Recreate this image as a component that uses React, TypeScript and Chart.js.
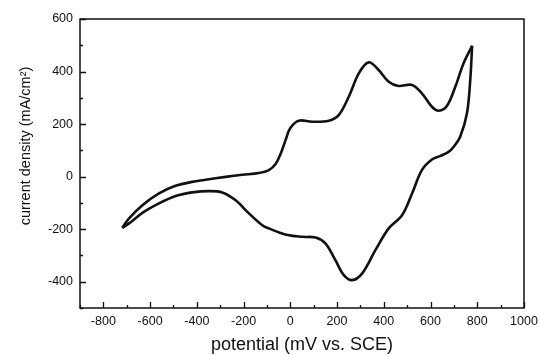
import React, { useEffect, useRef } from "react";
import { Chart, registerables } from "chart.js";

Chart.register(...registerables);

// Forward (anodic) scan: -720 mV -> 780 mV
const forwardPotential = [-719, -690, -633, -562, -491, -420, -348, -277, -206, -135, -92, -63, -40, -20, 0, 36, 93, 165, 207, 250, 293, 335, 378, 421, 463, 521, 563, 606, 635, 670, 706, 741, 778];
const forwardCurrent = [-195, -159, -109, -64, -35, -20, -10, -1, 7, 14, 25, 48, 90, 140, 185, 213, 209, 213, 234, 304, 393, 435, 406, 361, 345, 349, 317, 266, 251, 269, 342, 431, 498];

// Reverse (cathodic) scan: 780 mV -> -720 mV
const reversePotential = [778, 770, 756, 727, 700, 677, 640, 606, 563, 521, 478, 421, 364, 307, 264, 229, 193, 150, 108, 50, -21, -92, -120, -177, -234, -291, -348, -420, -491, -562, -633, -690, -719];
const reverseCurrent = [498, 368, 241, 152, 115, 94, 78, 65, 25, -64, -147, -197, -280, -369, -394, -375, -318, -254, -232, -229, -220, -197, -185, -140, -90, -60, -55, -60, -74, -102, -138, -178, -195];

const xTicks = [-800, -600, -400, -200, 0, 200, 400, 600, 800, 1000];
const xMinorTicks = [-900, -700, -500, -300, -100, 100, 300, 500, 700, 900];
const yTicks = [-400, -200, 0, 200, 400, 600];
const yMinorTicks = [-500, -300, -100, 100, 300, 500];

const xTitle = "potential (mV vs. SCE)";
const yTitle = "current density (mA/cm²)";

const FONT = "'Liberation Sans', Arial, Helvetica, sans-serif";

const framePlugin = {
  id: "frameAndTicks",
  afterDraw(chart: any) {
    const { ctx, chartArea } = chart;
    const xs = chart.scales.x;
    const ys = chart.scales.y;
    ctx.save();
    ctx.strokeStyle = "#111";
    ctx.lineWidth = 1.5;
    ctx.strokeRect(chartArea.left, chartArea.top, chartArea.right - chartArea.left, chartArea.bottom - chartArea.top);
    ctx.lineWidth = 1.3;
    ctx.beginPath();
    const drawX = (vals: number[], len: number) => {
      vals.forEach((v) => {
        const px = Math.round(xs.getPixelForValue(v)) + 0.5;
        ctx.moveTo(px, chartArea.bottom);
        ctx.lineTo(px, chartArea.bottom - len);
      });
    };
    const drawY = (vals: number[], len: number) => {
      vals.forEach((v) => {
        const py = Math.round(ys.getPixelForValue(v)) + 0.5;
        ctx.moveTo(chartArea.left, py);
        ctx.lineTo(chartArea.left + len, py);
      });
    };
    drawX(xTicks, 6);
    drawX(xMinorTicks, 3);
    drawY(yTicks, 6);
    drawY(yMinorTicks, 3);
    ctx.stroke();

    ctx.fillStyle = "#111";
    ctx.font = `18px ${FONT}`;
    ctx.textAlign = "center";
    ctx.textBaseline = "alphabetic";
    ctx.fillText(xTitle, 302, 350);

    ctx.save();
    ctx.translate(30, 146);
    ctx.rotate(-Math.PI / 2);
    ctx.font = `14.5px ${FONT}`;
    ctx.fillText(yTitle, 0, 0);
    ctx.restore();
    ctx.restore();
  },
};

export default function App() {
  const canvasRef = useRef<HTMLCanvasElement | null>(null);

  useEffect(() => {
    if (!canvasRef.current) return;
    const fwd = forwardPotential.map((x, i) => ({ x, y: forwardCurrent[i] }));
    const rev = reversePotential.map((x, i) => ({ x, y: reverseCurrent[i] }));
    const lineStyle = {
      showLine: true,
      borderColor: "#111",
      backgroundColor: "#111",
      borderWidth: 2.6,
      pointRadius: 0,
      tension: 0.35,
      fill: false,
    };
    const chart = new Chart(canvasRef.current, {
      type: "scatter",
      data: {
        datasets: [
          { label: "forward", data: fwd, ...lineStyle },
          { label: "reverse", data: rev, ...lineStyle },
        ],
      },
      options: {
        responsive: false,
        animation: false,
        layout: { padding: { top: 19, right: 16, left: 0, bottom: 0 } },
        plugins: { legend: { display: false }, tooltip: { enabled: false } },
        scales: {
          x: {
            type: "linear",
            min: -900,
            max: 1000,
            afterBuildTicks: (s: any) => {
              s.ticks = xTicks.map((v) => ({ value: v }));
            },
            afterFit: (s: any) => {
              s.height = 47;
              s.paddingRight = 0;
              s.paddingLeft = 0;
            },
            grid: { display: false, drawTicks: false },
            border: { display: false },
            ticks: {
              color: "#111",
              padding: 6,
              maxRotation: 0,
              autoSkip: false,
              font: { family: FONT, size: 12.5 },
              callback: (v: any) => String(v),
            },
          },
          y: {
            type: "linear",
            min: -500,
            max: 600,
            afterBuildTicks: (s: any) => {
              s.ticks = yTicks.map((v) => ({ value: v }));
            },
            afterFit: (s: any) => {
              s.width = 80;
              s.paddingTop = 0;
              s.paddingBottom = 0;
            },
            grid: { display: false, drawTicks: false },
            border: { display: false },
            ticks: {
              color: "#111",
              padding: 7,
              autoSkip: false,
              font: { family: FONT, size: 12.5 },
              callback: (v: any) => String(v),
            },
          },
        },
      },
      plugins: [framePlugin],
    });
    return () => chart.destroy();
  }, []);

  return (
    <div style={{ position: "fixed", left: 0, top: 0, width: 540, height: 355, background: "#fff" }}>
      <canvas ref={canvasRef} width={540} height={355} style={{ display: "block" }} />
    </div>
  );
}
